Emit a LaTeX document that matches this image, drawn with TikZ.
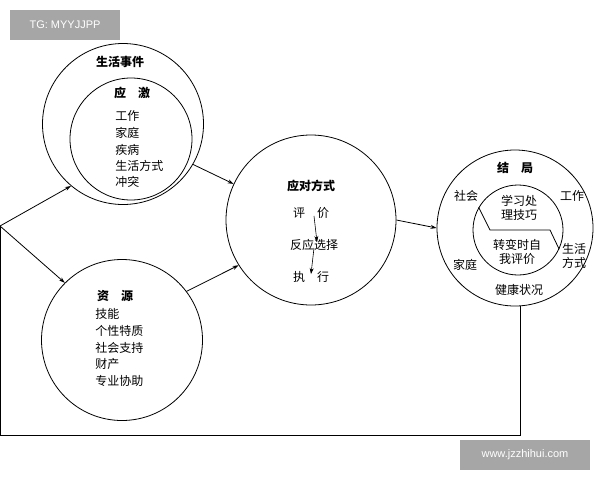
\documentclass[tikz,border=0pt]{standalone}
\usepackage{fontspec}
\setmainfont{Noto Sans CJK SC}
\newfontfamily\wm{Liberation Sans}
\usetikzlibrary{arrows.meta}
\begin{document}
\begin{tikzpicture}[x=1pt,y=-1pt,line width=0.8pt,
  circ/.style={draw,circle},
  lbl/.style={font=\fontsize{12}{14}\selectfont,inner sep=0pt},
  bl/.style={lbl,font=\fontsize{12}{14}\selectfont\bfseries},
  arr/.style={-{Stealth[length=6pt,width=4pt]}},
  wmark/.style={fill=black!35,text=white,font=\wm\fontsize{11}{13}\selectfont,inner sep=0pt}]
\useasboundingbox (0,0) rectangle (600,480);
\node[wmark,minimum width=110,minimum height=30] (wm1) at (65,25) {TG: MYYJJPP};
\node[wmark,minimum width=130,minimum height=30] (wm2) at (525,455) {www.jzzhihui.com};
% circles
\node[circ,minimum size=161] (ev) at (123,124) {};
\node[circ,minimum size=122] (st) at (131,139) {};
\node[circ,minimum size=170] (cp) at (311,220) {};
\node[circ,minimum size=156] (oc) at (515,228) {};
\node[circ,minimum size=90] (ocin) at (518,230) {};
\node[circ,minimum size=161] (rs) at (122,340) {};
% texts top
\node[bl] (t1) at (120,62) {生活事件};
\node[bl] (t2) at (132,93) {应\quad 激};
\node[lbl,anchor=west] at (115,116) {工作};
\node[lbl,anchor=west] at (115,133) {家庭};
\node[lbl,anchor=west] at (115,150) {疾病};
\node[lbl,anchor=west] at (115,166) {生活方式};
\node[lbl,anchor=west] at (115,182) {冲突};
% bottom
\node[bl] at (115,296) {资\quad 源};
\node[lbl,anchor=west] at (95,314) {技能};
\node[lbl,anchor=west] at (95,331) {个性特质};
\node[lbl,anchor=west] at (95,348) {社会支持};
\node[lbl,anchor=west] at (95,364) {财产};
\node[lbl,anchor=west] at (95,381) {专业协助};
% middle
\node[bl] at (311,186) {应对方式};
\node[lbl] (p1) at (311,213) {评\quad 价};
\node[lbl] (p2) at (314,245) {反应选择};
\node[lbl] (p3) at (311,277) {执\quad 行};
\draw[arr,line width=0.6pt] ([xshift=3pt,yshift=3pt]p1.south) -- ([xshift=3pt,yshift=-3pt]p2.north);
\draw[arr,line width=0.6pt] ([yshift=3pt]p2.south) -- ([yshift=-3pt]p3.north);
% right
\node[bl] at (515,168) {结\quad 局};
\node[lbl] at (466,196) {社会};
\node[lbl] at (572,196) {工作};
\node[lbl,align=center] at (519,208) {学习处\\理技巧};
\node[lbl,align=center] at (517,252) {转变时自\\我评价};
\node[lbl] at (465,265) {家庭};
\node[lbl,align=center] at (574,256) {生活\\方式};
\node[lbl] at (519,290) {健康状况};
\draw (ocin.150) -- (490,230) -- (550,230) -- (ocin.-25);
% connectors
\coordinate (L) at (0,226);
\draw[arr] (L) -- (ev.-130);
\draw[arr] (L) -- (rs.135);
\draw[arr] (ev.-30) -- (cp.155);
\draw[arr] (rs.37) -- (cp.-148);
\draw[arr] (cp.east) -- (oc.west);
\draw ([xshift=5pt]oc.south) -- (520,435) -- (0,435) -- (L);
\end{tikzpicture}
\end{document}
